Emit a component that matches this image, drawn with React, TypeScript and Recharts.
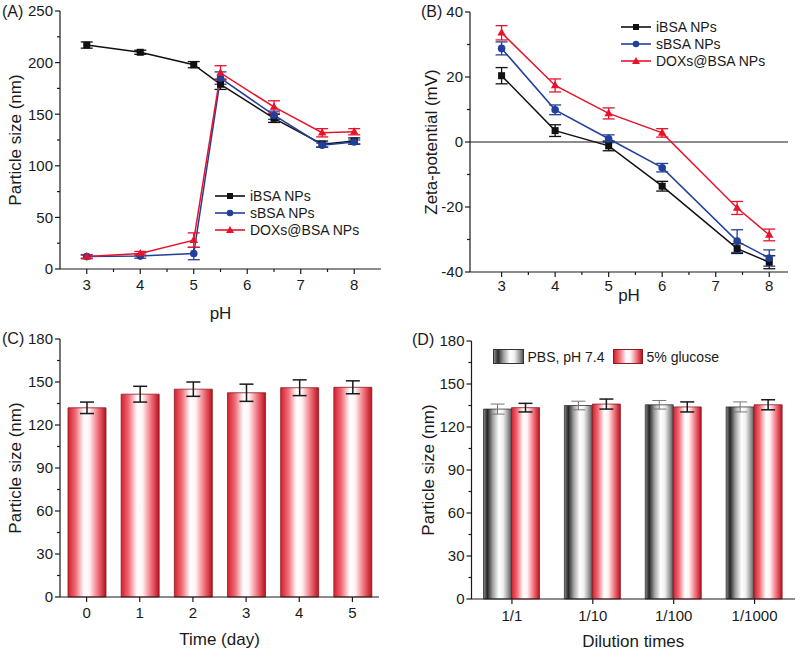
import React from 'react';
import {
  LineChart,
  Line,
  XAxis,
  YAxis,
  ErrorBar,
  ReferenceLine,
  BarChart,
  Bar,
  Legend,
} from 'recharts';

const FONT = '"Liberation Sans", Arial, Helvetica, sans-serif';
const INK = '#1a1a1a';
const BLACK = '#111111';
const BLUE = '#22409a';
const RED = '#e8132b';
const TICK_FS = 15;
const TITLE_FS = 17;

// ---------- Panel A: particle size vs pH ----------
const phA = [3, 4, 5, 5.5, 6.5, 7.4, 8];
const iBsaSizeA = [217, 210, 198, 179, 146, 121, 124];
const iBsaSizeErrA = [3, 2, 3, 5, 4, 3, 3];
const sBsaSizeA = [12, 12.5, 15, 185, 149, 120, 123];
const sBsaSizeErrA = [1.5, 2, 6, 6, 4, 2, 2];
const doxSizeA = [12, 15, 28, 190, 157, 132, 133];
const doxSizeErrA = [2, 2, 7, 7, 6, 4, 3];
const xTicksA = [3, 3.5, 4, 4.5, 5, 5.5, 6, 6.5, 7, 7.5, 8];
const xMajorA = [3, 4, 5, 6, 7, 8];
const yTicksA = [0, 25, 50, 75, 100, 125, 150, 175, 200, 225, 250];
const yMajorA = [0, 50, 100, 150, 200, 250];

// ---------- Panel B: zeta potential vs pH ----------
const phB = [3, 4, 5, 6, 7.4, 8];
const iBsaZetaB = [20.4, 3.5, -1.2, -13.6, -32.8, -37];
const iBsaZetaErrB = [2.5, 1.8, 1.5, 1.5, 1.5, 2];
const sBsaZetaB = [28.8, 9.9, 1.0, -7.9, -30.5, -35.7];
const sBsaZetaErrB = [2, 1.5, 1.2, 1.3, 3.5, 2.5];
const doxZetaB = [33.6, 17.4, 8.8, 2.8, -20.3, -28.6];
const doxZetaErrB = [2.2, 2, 1.7, 1.3, 2, 1.8];
const xTicksB = [3, 3.5, 4, 4.5, 5, 5.5, 6, 6.5, 7, 7.5, 8];
const xMajorB = [3, 4, 5, 6, 7, 8];
const yTicksB = [-40, -30, -20, -10, 0, 10, 20, 30, 40];
const yMajorB = [-40, -20, 0, 20, 40];

const seriesNames = ['iBSA NPs', 'sBSA NPs', 'DOXs@BSA NPs'];

// ---------- Panel C: stability over time ----------
const daysC = ['0', '1', '2', '3', '4', '5'];
const sizeC = [132, 141.5, 145, 142.5, 146, 146.3];
const sizeErrC = [4, 5.5, 5, 6, 5.5, 4.5];

// ---------- Panel D: dilution ----------
const dilutionsD = ['1/1', '1/10', '1/100', '1/1000'];
const pbsD = [132.5, 135, 135.5, 134];
const pbsErrD = [3.5, 3, 3, 3.5];
const glucoseD = [133.5, 136, 134, 135.5];
const glucoseErrD = [3, 3.5, 3.5, 3.5];
const legendD = ['PBS, pH 7.4', '5% glucose'];

const yTicksCD = [0, 15, 30, 45, 60, 75, 90, 105, 120, 135, 150, 165, 180];
const yMajorCD = [0, 30, 60, 90, 120, 150, 180];

// ---------- built tables ----------
const dataA = phA.map((ph, i) => ({
  ph,
  i: iBsaSizeA[i],
  ie: iBsaSizeErrA[i],
  s: sBsaSizeA[i],
  se: sBsaSizeErrA[i],
  d: doxSizeA[i],
  de: doxSizeErrA[i],
}));
const dataB = phB.map((ph, i) => ({
  ph,
  i: iBsaZetaB[i],
  ie: iBsaZetaErrB[i],
  s: sBsaZetaB[i],
  se: sBsaZetaErrB[i],
  d: doxZetaB[i],
  de: doxZetaErrB[i],
}));
const dataC = daysC.map((day, i) => ({ day, v: sizeC[i], e: sizeErrC[i] }));
const dataD = dilutionsD.map((dil, i) => ({
  dil,
  p: pbsD[i],
  pe: pbsErrD[i],
  g: glucoseD[i],
  ge: glucoseErrD[i],
}));

// ---------- helpers ----------
const makeLeftTick = (majors: number[]) => (props: any) => {
  const { x, y, payload } = props;
  const v = payload.value;
  const isMajor = majors.indexOf(v) >= 0;
  return (
    <g>
      <line x1={x} y1={y} x2={x - (isMajor ? 5 : 3)} y2={y} stroke={INK} strokeWidth={1.2} />
      {isMajor && (
        <text x={x - 7} y={y} dy="0.36em" textAnchor="end" fontSize={TICK_FS} fontFamily={FONT} fill={INK}>
          {v}
        </text>
      )}
    </g>
  );
};

const makeBottomTick = (majors: (number | string)[] | null, gap: number) => (props: any) => {
  const { x, y, payload } = props;
  const v = payload.value;
  const isMajor = majors === null || majors.indexOf(v) >= 0;
  return (
    <g>
      <line x1={x} y1={y} x2={x} y2={y + (isMajor ? 5 : 3)} stroke={INK} strokeWidth={1.2} />
      {isMajor && (
        <text x={x} y={y + gap} dy="0.36em" textAnchor="middle" fontSize={TICK_FS} fontFamily={FONT} fill={INK}>
          {v}
        </text>
      )}
    </g>
  );
};

const yTitle = (text: string, cx: number, fallbackCy: number) => (props: any) => {
  const vb = props && props.viewBox;
  const cy = vb && typeof vb.y === 'number' && typeof vb.height === 'number' ? vb.y + vb.height / 2 : fallbackCy;
  return (
    <text
      x={cx}
      y={cy}
      transform={`rotate(-90 ${cx} ${cy})`}
      textAnchor="middle"
      dominantBaseline="central"
      fontSize={TITLE_FS}
      fontFamily={FONT}
      fill={INK}
    >
      {text}
    </text>
  );
};

const xTitle = (text: string, cy: number, fallbackCx: number) => (props: any) => {
  const vb = props && props.viewBox;
  const cx = vb && typeof vb.x === 'number' && typeof vb.width === 'number' ? vb.x + vb.width / 2 : fallbackCx;
  return (
    <text x={cx} y={cy} textAnchor="middle" dominantBaseline="central" fontSize={TITLE_FS} fontFamily={FONT} fill={INK}>
      {text}
    </text>
  );
};

const squareDot = (color: string, s = 7) => (p: any) =>
  p.cx == null ? (
    <g key={`sq${p.index}`} />
  ) : (
    <rect key={`sq${p.index}`} x={p.cx - s / 2} y={p.cy - s / 2} width={s} height={s} fill={color} />
  );
const circleDot = (color: string, r = 3.8) => (p: any) =>
  p.cx == null ? <g key={`ci${p.index}`} /> : <circle key={`ci${p.index}`} cx={p.cx} cy={p.cy} r={r} fill={color} />;
const triDot = (color: string, s = 8.5) => (p: any) => {
  if (p.cx == null) return <g key={`tr${p.index}`} />;
  const h = s * 0.87;
  const pts = `${p.cx},${p.cy - h * 0.62} ${p.cx - s / 2},${p.cy + h * 0.38} ${p.cx + s / 2},${p.cy + h * 0.38}`;
  return <polygon key={`tr${p.index}`} points={pts} fill={color} />;
};

const LegendMarker = ({ kind, color }: { kind: number; color: string }) => (
  <svg width={30} height={12} style={{ display: 'block' }}>
    <line x1={0} y1={6} x2={30} y2={6} stroke={color} strokeWidth={1.6} />
    {kind === 0 && <rect x={12} y={3} width={6} height={6} fill={color} />}
    {kind === 1 && <circle cx={15} cy={6} r={3.3} fill={color} />}
    {kind === 2 && <polygon points="15,2 11,9 19,9" fill={color} />}
  </svg>
);

const lineColors = [BLACK, BLUE, RED];

const LineLegendContent = (rowH: number) => () => (
  <div style={{ fontFamily: FONT, fontSize: 14, color: INK }}>
    {seriesNames.map((n, k) => (
      <div key={n} style={{ display: 'flex', alignItems: 'center', height: rowH, whiteSpace: 'nowrap' }}>
        <LegendMarker kind={k} color={lineColors[k]} />
        <span style={{ marginLeft: 5 }}>{n}</span>
      </div>
    ))}
  </div>
);

const BLACK_GRAD = 'linear-gradient(to right, #8a8a8a 0%, #2a2a2a 14%, #9a9a9a 32%, #ffffff 55%, #f2f2f2 70%, #9a9a9a 88%, #5a5a5a 100%)';
const RED_GRAD = 'linear-gradient(to right, #d8202e 0%, #f27a84 22%, #ffffff 45%, #fff4f5 58%, #f07a84 80%, #c0101e 100%)';

const BarLegendContent = () => (
  <div style={{ display: 'flex', alignItems: 'center', fontFamily: FONT, fontSize: 14, color: INK, whiteSpace: 'nowrap' }}>
    <div style={{ width: 29, height: 13, background: BLACK_GRAD, border: '1px solid #333' }} />
    <span style={{ marginLeft: 4, marginRight: 8 }}>{legendD[0]}</span>
    <div style={{ width: 28, height: 13, background: RED_GRAD, border: '1px solid #8a1c22' }} />
    <span style={{ marginLeft: 4 }}>{legendD[1]}</span>
  </div>
);

const axisLineStyle = { stroke: INK, strokeWidth: 1.2 };

const PanelLetter = ({ text, left, top }: { text: string; left: number; top: number }) => (
  <div
    style={{
      position: 'absolute',
      left,
      top,
      fontFamily: FONT,
      fontSize: 16,
      color: INK,
      lineHeight: '16px',
    }}
  >
    {text}
  </div>
);

const RedGradientDef = ({ id }: { id: string }) => (
  <linearGradient id={id} x1="0" y1="0" x2="1" y2="0">
    <stop offset="0%" stopColor="#d41f2d" />
    <stop offset="20%" stopColor="#f06b76" />
    <stop offset="42%" stopColor="#ffffff" />
    <stop offset="56%" stopColor="#fff3f4" />
    <stop offset="80%" stopColor="#ee6b76" />
    <stop offset="100%" stopColor="#b8101d" />
  </linearGradient>
);
const BlackGradientDef = ({ id }: { id: string }) => (
  <linearGradient id={id} x1="0" y1="0" x2="1" y2="0">
    <stop offset="0%" stopColor="#8a8a8a" />
    <stop offset="14%" stopColor="#262626" />
    <stop offset="33%" stopColor="#a0a0a0" />
    <stop offset="55%" stopColor="#ffffff" />
    <stop offset="70%" stopColor="#f0f0f0" />
    <stop offset="88%" stopColor="#999999" />
    <stop offset="100%" stopColor="#555555" />
  </linearGradient>
);

export default function App() {
  return (
    <div style={{ position: 'absolute', left: 0, top: 0, width: 800, height: 653, background: '#ffffff', overflow: 'hidden' }}>
      {/* Panel A */}
      <div style={{ position: 'absolute', left: 0, top: 0 }}>
        <LineChart width={400} height={326} data={dataA} margin={{ top: 11, right: 19, left: 0, bottom: 0 }}>
          <XAxis
            dataKey="ph"
            type="number"
            domain={[2.5, 8.5]}
            ticks={xTicksA}
            interval={0}
            height={57}
            tickSize={0}
            tickMargin={0}
            tickLine={false}
            axisLine={axisLineStyle}
            tick={makeBottomTick(xMajorA, 16)}
            label={{ content: xTitle('pH', 313, 220) }}
          />
          <XAxis xAxisId="top" orientation="top" dataKey="ph" type="number" domain={[2.5, 8.5]} height={0} tick={false} tickLine={false} axisLine={axisLineStyle} />
          <YAxis
            type="number"
            domain={[0, 250]}
            ticks={yTicksA}
            interval={0}
            width={60}
            tickSize={0}
            tickMargin={0}
            tickLine={false}
            axisLine={axisLineStyle}
            tick={makeLeftTick(yMajorA)}
            label={{ content: yTitle('Particle size (nm)', 15, 140) }}
          />
          <YAxis yAxisId="r" orientation="right" domain={[0, 250]} width={0} tick={false} tickLine={false} axisLine={axisLineStyle} />
          <Line dataKey="i" name={seriesNames[0]} stroke={BLACK} strokeWidth={1.5} dot={squareDot(BLACK)} activeDot={false} isAnimationActive={false}>
            <ErrorBar dataKey="ie" width={6} stroke={BLACK} strokeWidth={1.3} direction="y" />
          </Line>
          <Line dataKey="s" name={seriesNames[1]} stroke={BLUE} strokeWidth={1.5} dot={circleDot(BLUE)} activeDot={false} isAnimationActive={false}>
            <ErrorBar dataKey="se" width={6} stroke={BLUE} strokeWidth={1.3} direction="y" />
          </Line>
          <Line dataKey="d" name={seriesNames[2]} stroke={RED} strokeWidth={1.5} dot={triDot(RED)} activeDot={false} isAnimationActive={false}>
            <ErrorBar dataKey="de" width={6} stroke={RED} strokeWidth={1.3} direction="y" />
          </Line>
          <Legend
            layout="horizontal"
            verticalAlign="middle"
            align="center"
            content={LineLegendContent(17.3)}
            wrapperStyle={{ left: 215, top: 187, width: 170, height: 52 }}
          />
        </LineChart>
      </div>

      {/* Panel B */}
      <div style={{ position: 'absolute', left: 400, top: 0 }}>
        <LineChart width={400} height={326} data={dataB} margin={{ top: 12, right: 12, left: 0, bottom: 0 }}>
          <XAxis
            dataKey="ph"
            type="number"
            domain={[2.41, 8.35]}
            ticks={xTicksB}
            interval={0}
            height={54}
            tickSize={0}
            tickMargin={0}
            tickLine={false}
            axisLine={axisLineStyle}
            tick={makeBottomTick(xMajorB, 14)}
            label={{ content: xTitle('pH', 295, 229) }}
          />
          <XAxis xAxisId="top" orientation="top" dataKey="ph" type="number" domain={[2.41, 8.35]} height={0} tick={false} tickLine={false} axisLine={axisLineStyle} />
          <YAxis
            type="number"
            domain={[-40, 40]}
            ticks={yTicksB}
            interval={0}
            width={70}
            tickSize={0}
            tickMargin={0}
            tickLine={false}
            axisLine={axisLineStyle}
            tick={makeLeftTick(yMajorB)}
            label={{ content: yTitle('Zeta-potential (mV)', 31.7, 142) }}
          />
          <YAxis yAxisId="r" orientation="right" domain={[-40, 40]} width={0} tick={false} tickLine={false} axisLine={axisLineStyle} />
          <ReferenceLine y={0} stroke={INK} strokeWidth={1.1} />
          <Line dataKey="i" name={seriesNames[0]} stroke={BLACK} strokeWidth={1.5} dot={squareDot(BLACK)} activeDot={false} isAnimationActive={false}>
            <ErrorBar dataKey="ie" width={6} stroke={BLACK} strokeWidth={1.3} direction="y" />
          </Line>
          <Line dataKey="s" name={seriesNames[1]} stroke={BLUE} strokeWidth={1.5} dot={circleDot(BLUE)} activeDot={false} isAnimationActive={false}>
            <ErrorBar dataKey="se" width={6} stroke={BLUE} strokeWidth={1.3} direction="y" />
          </Line>
          <Line dataKey="d" name={seriesNames[2]} stroke={RED} strokeWidth={1.5} dot={triDot(RED)} activeDot={false} isAnimationActive={false}>
            <ErrorBar dataKey="de" width={6} stroke={RED} strokeWidth={1.3} direction="y" />
          </Line>
          <Legend
            layout="horizontal"
            verticalAlign="middle"
            align="center"
            content={LineLegendContent(17.2)}
            wrapperStyle={{ left: 221, top: 18.5, width: 170, height: 52 }}
          />
        </LineChart>
      </div>

      {/* Panel C */}
      <div style={{ position: 'absolute', left: 0, top: 326 }}>
        <BarChart width={400} height={327} data={dataC} margin={{ top: 13, right: 21, left: 0, bottom: 0 }} barSize={38}>
          <defs>
            <RedGradientDef id="redGradC" />
          </defs>
          <XAxis
            dataKey="day"
            height={56}
            interval={0}
            tickSize={0}
            tickMargin={0}
            tickLine={false}
            axisLine={axisLineStyle}
            tick={makeBottomTick(null, 16)}
            label={{ content: xTitle('Time (day)', 313, 220) }}
          />
          <XAxis xAxisId="top" orientation="top" dataKey="day" height={0} tick={false} tickLine={false} axisLine={axisLineStyle} />
          <YAxis
            type="number"
            domain={[0, 180]}
            ticks={yTicksCD}
            interval={0}
            width={60}
            tickSize={0}
            tickMargin={0}
            tickLine={false}
            axisLine={axisLineStyle}
            tick={makeLeftTick(yMajorCD)}
            label={{ content: yTitle('Particle size (nm)', 15, 142) }}
          />
          <YAxis yAxisId="r" orientation="right" domain={[0, 180]} width={0} tick={false} tickLine={false} axisLine={axisLineStyle} />
          <Bar dataKey="v" fill="url(#redGradC)" stroke="#8a1c22" strokeWidth={0.8} isAnimationActive={false}>
            <ErrorBar dataKey="e" width={7} stroke={INK} strokeWidth={1.5} direction="y" />
          </Bar>
        </BarChart>
      </div>

      {/* Panel D */}
      <div style={{ position: 'absolute', left: 400, top: 326 }}>
        <BarChart width={400} height={327} data={dataD} margin={{ top: 15, right: 5, left: 0, bottom: 0 }} barSize={28} barGap={0}>
          <defs>
            <RedGradientDef id="redGradD" />
            <BlackGradientDef id="blackGradD" />
          </defs>
          <XAxis
            dataKey="dil"
            height={54}
            interval={0}
            tickSize={0}
            tickMargin={0}
            tickLine={false}
            axisLine={axisLineStyle}
            tick={makeBottomTick(null, 17)}
            label={{ content: xTitle('Dilution times', 315.7, 233) }}
          />
          <XAxis xAxisId="top" orientation="top" dataKey="dil" height={0} tick={false} tickLine={false} axisLine={axisLineStyle} />
          <YAxis
            type="number"
            domain={[0, 180]}
            ticks={yTicksCD}
            interval={0}
            width={71.5}
            tickSize={0}
            tickMargin={0}
            tickLine={false}
            axisLine={axisLineStyle}
            tick={makeLeftTick(yMajorCD)}
            label={{ content: yTitle('Particle size (nm)', 28, 144) }}
          />
          <YAxis yAxisId="r" orientation="right" domain={[0, 180]} width={0} tick={false} tickLine={false} axisLine={axisLineStyle} />
          <Bar dataKey="p" name={legendD[0]} fill="url(#blackGradD)" stroke="#333333" strokeWidth={0.8} isAnimationActive={false}>
            <ErrorBar dataKey="pe" width={7} stroke="#777777" strokeWidth={1} direction="y" />
          </Bar>
          <Bar dataKey="g" name={legendD[1]} fill="url(#redGradD)" stroke="#8a1c22" strokeWidth={0.8} isAnimationActive={false}>
            <ErrorBar dataKey="ge" width={7} stroke={INK} strokeWidth={1.5} direction="y" />
          </Bar>
          <Legend
            layout="horizontal"
            verticalAlign="middle"
            align="center"
            content={BarLegendContent}
            wrapperStyle={{ left: 92.5, top: 22.5, width: 260, height: 16 }}
          />
        </BarChart>
      </div>

      <PanelLetter text="(A)" left={2} top={4} />
      <PanelLetter text="(B)" left={421} top={4} />
      <PanelLetter text="(C)" left={2} top={331} />
      <PanelLetter text="(D)" left={412} top={332} />
    </div>
  );
}
